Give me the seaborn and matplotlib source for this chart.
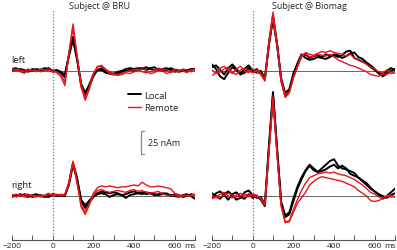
import numpy as np
import pandas as pd
import matplotlib
matplotlib.use("Agg")
import matplotlib.pyplot as plt
from matplotlib.lines import Line2D
import seaborn as sns

# tiempo (ms), una muestra cada 20 ms
time_ms = np.arange(-200, 701, 20)

# BRU, hemisferio izquierdo (nAm)
bru_left_local_a = [2, 3, 0, -2, 1, 0, 2, 1, 3, 2, -1,
                    0, -2, -7, 18, 37, 14, -16, -27, -17, -6,
                    1, 1, -2, -3, -4, -3, -1, 0, 1, 0,
                    2, 3, 1, 3, 4, 1, 2, 3, 1, -1,
                    0, 1, 0, 2, 2]
bru_left_local_b = [0, 1, 2, 1, -1, 2, 1, 0, 1, 3, 0,
                    1, -1, -4, 16, 34, 12, -14, -24, -15, -4,
                    1, 3, 0, -2, -3, -1, 0, 2, 3, 2,
                    3, 2, 4, 2, 1, 2, 0, 1, 3, 1,
                    -1, 0, 1, 1, 2]
bru_left_remote_a = [-1, 2, 1, -2, 0, 1, -1, 2, 1, 0, 1,
                     -2, -6, -16, 20, 51, 16, -18, -32, -20, -4,
                     5, 5, 1, -3, -4, -5, -4, -2, -3, -1,
                     0, 2, 1, -3, -2, 1, 0, -3, -1, 2,
                     1, 0, -2, 1, 2]
bru_left_remote_b = [2, 1, -1, 0, 2, 0, 1, -1, 0, 2, -1,
                     -1, -4, -12, 18, 47, 15, -15, -29, -18, -3,
                     4, 6, 2, -1, -3, -4, -3, -1, 0, 1,
                     2, -1, -2, -1, 1, 3, 2, 1, -2, 0,
                     -1, 2, 1, -1, 1]

# BRU, hemisferio derecho
bru_right_local_a = [-1, 1, 0, 2, 1, -1, 0, 1, 0, -1, 1,
                     0, 1, 0, 14, 36, 20, -6, -13, -7, -1,
                     2, 3, 2, -1, 1, 2, 1, -2, 1, 2,
                     3, 4, 2, 3, 1, 2, 3, 2, 1, 0,
                     -1, 1, 2, 0, -3]
bru_right_local_b = [1, 0, 2, 0, -1, 1, 2, 0, -1, 0, 2,
                     1, 0, 1, 12, 34, 18, -4, -10, -5, 0,
                     3, 5, 4, 3, 4, 3, 1, 2, 4, 5,
                     3, 2, 4, 3, 2, 1, 2, 3, 0, 2,
                     1, -1, 0, 2, 1]
bru_right_remote_a = [1, -1, 0, 1, 2, 0, -1, 1, 0, 2, 1,
                      2, 0, 2, 15, 38, 16, -12, -20, -10, 3,
                      9, 11, 10, 11, 10, 9, 10, 10, 11, 12,
                      11, 15, 12, 10, 10, 11, 10, 9, 8, 3,
                      1, 0, 1, 0, 1]
bru_right_remote_b = [0, 2, 1, -1, 0, 1, 0, -1, 1, 3, 0,
                      1, 2, 1, 13, 36, 14, -10, -17, -8, 1,
                      6, 7, 5, 4, 5, 6, 5, 4, 6, 7,
                      5, 6, 4, 3, 4, 5, 2, 1, 0, 1,
                      -1, 1, 0, 1, 2]

# Biomag, hemisferio izquierdo
bio_left_local_a = [7, 2, -6, -9, -2, 4, 1, -4, -2, 3, -1,
                    2, -3, -10, 30, 60, 30, -10, -27, -22, -6,
                    6, 16, 18, 14, 16, 17, 15, 18, 16, 17,
                    15, 17, 21, 22, 14, 12, 10, 8, 4, 1,
                    -2, -6, -3, 0, 2]
bio_left_local_b = [4, 6, 1, -4, 3, 7, 2, -3, 2, 6, 0,
                    -2, 0, -8, 28, 56, 28, -8, -24, -20, -3,
                    8, 18, 14, 12, 13, 15, 14, 13, 15, 18,
                    17, 14, 16, 19, 20, 15, 13, 9, 6, 2,
                    -3, -4, 0, 3, 1]
bio_left_remote_a = [-5, -2, 3, 5, 1, -3, 2, 5, 0, -2, 2,
                     -1, -4, -11, 32, 64, 30, -12, -29, -24, -8,
                     4, 15, 20, 18, 17, 19, 21, 20, 22, 20,
                     19, 18, 16, 18, 14, 12, 10, 7, 4, 2,
                     -1, -2, 1, -3, -2]
bio_left_remote_b = [1, -3, -1, 2, 4, -2, -4, 1, 3, 0, -2,
                     1, -2, -9, 28, 58, 27, -9, -26, -23, -7,
                     5, 17, 19, 15, 16, 18, 17, 16, 18, 15,
                     12, 10, 8, 6, 5, 3, 1, -1, -4, -5,
                     -6, -3, -4, -1, -2]

# Biomag, hemisferio derecho
bio_right_local_a = [-2, 3, 5, 1, -4, 2, 4, -1, -3, 2, -2,
                     0, -4, -11, 55, 113, 52, -8, -23, -20, -6,
                     8, 18, 27, 33, 28, 26, 30, 34, 38, 40,
                     33, 30, 29, 27, 25, 20, 16, 12, 8, 5,
                     1, -3, 0, 4, 8]
bio_right_local_b = [3, 0, -3, 2, 5, 1, -4, -2, 4, 6, 1,
                     -2, -1, -9, 52, 110, 50, -6, -21, -18, -3,
                     10, 20, 28, 34, 30, 26, 27, 29, 32, 34,
                     30, 33, 30, 24, 22, 20, 17, 14, 9, 5,
                     2, 0, -2, 1, 3]
bio_right_remote_a = [-3, -1, 2, 4, 0, -2, 1, 3, 0, -1, 2,
                      1, -3, -10, 50, 108, 48, -10, -28, -27, -15,
                      -4, 6, 14, 20, 22, 24, 25, 26, 25, 26,
                      24, 23, 22, 20, 18, 15, 12, 8, 4, 2,
                      -1, -2, 0, -1, -1]
bio_right_remote_b = [0, -2, -1, 1, 3, 1, -1, 0, 2, 1, 0,
                      -1, -2, -9, 48, 104, 45, -11, -29, -28, -18,
                      -8, -2, 4, 12, 16, 19, 21, 20, 19, 18,
                      17, 16, 14, 12, 10, 6, 3, 0, -5, -6,
                      -5, -2, 0, 1, -1]

tick_labels = ["\u2212200", "", "0", "", "200", "", "400", "", "600", ""]
scale_nam = 25

OFFSET = 136      # separacion vertical entre hemisferios (nAm)
YLIM = (-47.8, 214.1)
colors = {"Local": "black", "Remote": "#e8141b"}
widths = {"Local": 1.4, "Remote": 1.0}

panels = {
    "Subject @ BRU": {
        "left": {"Local": [bru_left_local_a, bru_left_local_b],
                 "Remote": [bru_left_remote_a, bru_left_remote_b]},
        "right": {"Local": [bru_right_local_a, bru_right_local_b],
                  "Remote": [bru_right_remote_a, bru_right_remote_b]},
    },
    "Subject @ Biomag": {
        "left": {"Local": [bio_left_local_a, bio_left_local_b],
                 "Remote": [bio_left_remote_a, bio_left_remote_b]},
        "right": {"Local": [bio_right_local_a, bio_right_local_b],
                  "Remote": [bio_right_remote_a, bio_right_remote_b]},
    },
}

sns.set_theme(style="white")
plt.rcParams['font.family'] = ['Open Sans', 'DejaVu Sans']

W, H = 397, 251
fig = plt.figure(figsize=(W / 100, H / 100), dpi=100)
ax_l = fig.add_axes([12 / W, 10 / H, 183 / W, 241 / H])
ax_r = fig.add_axes([212 / W, 10 / H, 183 / W, 241 / H])

title_x = {"Subject @ BRU": 230, "Subject @ Biomag": 280}

for ax, (title, hemis) in zip([ax_l, ax_r], panels.items()):
    rows = []
    for hemi, shift in [("left", OFFSET), ("right", 0)]:
        for site, runs in hemis[hemi].items():
            for k, vals in enumerate(runs):
                for t, v in zip(time_ms, vals):
                    rows.append({"time": t, "nAm": v + shift, "site": site,
                                 "run": f"{hemi}{k}"})
    df = pd.DataFrame(rows)

    ax.axhline(0, color="#666666", lw=0.7, zorder=1)
    ax.axhline(OFFSET, color="#666666", lw=0.7, zorder=1)
    ax.axvline(0, ymax=0.958, color="#777777", lw=0.9, ls=(0, (1, 1.5)), zorder=1)

    for site in ["Local", "Remote"]:
        sns.lineplot(data=df[df.site == site], x="time", y="nAm", units="run",
                     estimator=None, color=colors[site], lw=widths[site],
                     ax=ax, legend=False, zorder=3,
                     solid_joinstyle="round")

    ax.set_xlim(-200, 700)
    ax.set_ylim(*YLIM)
    ax.set_xlabel("")
    ax.set_ylabel("")
    ax.set_yticks([])
    ax.set_xticks(range(-200, 701, 100))
    ax.set_xticklabels(tick_labels)
    ax.tick_params(axis="x", direction="in", length=3.5, width=0.7, color="#555555",
                   labelsize=6.0, pad=1.5, bottom=True, labelcolor="#222222")
    for s in ["top", "left", "right"]:
        ax.spines[s].set_visible(False)
    ax.spines["bottom"].set_color("#555555")
    ax.spines["bottom"].set_linewidth(0.8)
    ax.patch.set_alpha(0)

    # unidad junto al ultimo rotulo
    ax.text(674, -0.0087, "ms", transform=ax.get_xaxis_transform(),
            ha="center", va="top", fontsize=6.0, color="#222222", clip_on=False)

    ax.text(title_x[title], 206.5, title, ha="center", va="center",
            fontsize=6.5, color="#222222")

# etiquetas de hemisferio
ax_l.text(-205, 148, "left", ha="left", va="center", fontsize=6.8,
          color="#222222", clip_on=False)
ax_l.text(-205, 13, "right", ha="left", va="center", fontsize=6.8,
          color="#222222", clip_on=False)

# leyenda
handles = [Line2D([], [], color=colors["Local"], lw=1.4),
           Line2D([], [], color=colors["Remote"], lw=1.0)]
ax_l.legend(handles, ["Local", "Remote"], loc="upper left",
            bbox_to_anchor=(0.634, 0.62), frameon=False, borderpad=0,
            borderaxespad=0, handlelength=1.35, handletextpad=0.35,
            labelspacing=0.35, fontsize=6.8)

# barra de escala
bar_x, bar_top = 434, 70.7
ax_l.plot([bar_x + 15, bar_x, bar_x, bar_x + 15],
          [bar_top, bar_top, bar_top - scale_nam, bar_top - scale_nam],
          color="#888888", lw=0.9)
ax_l.text(bar_x + 34, bar_top - scale_nam / 2, f"{scale_nam} nAm", ha="left",
          va="center", fontsize=6.5, color="#222222")

fig.savefig("out.png", dpi=100)
